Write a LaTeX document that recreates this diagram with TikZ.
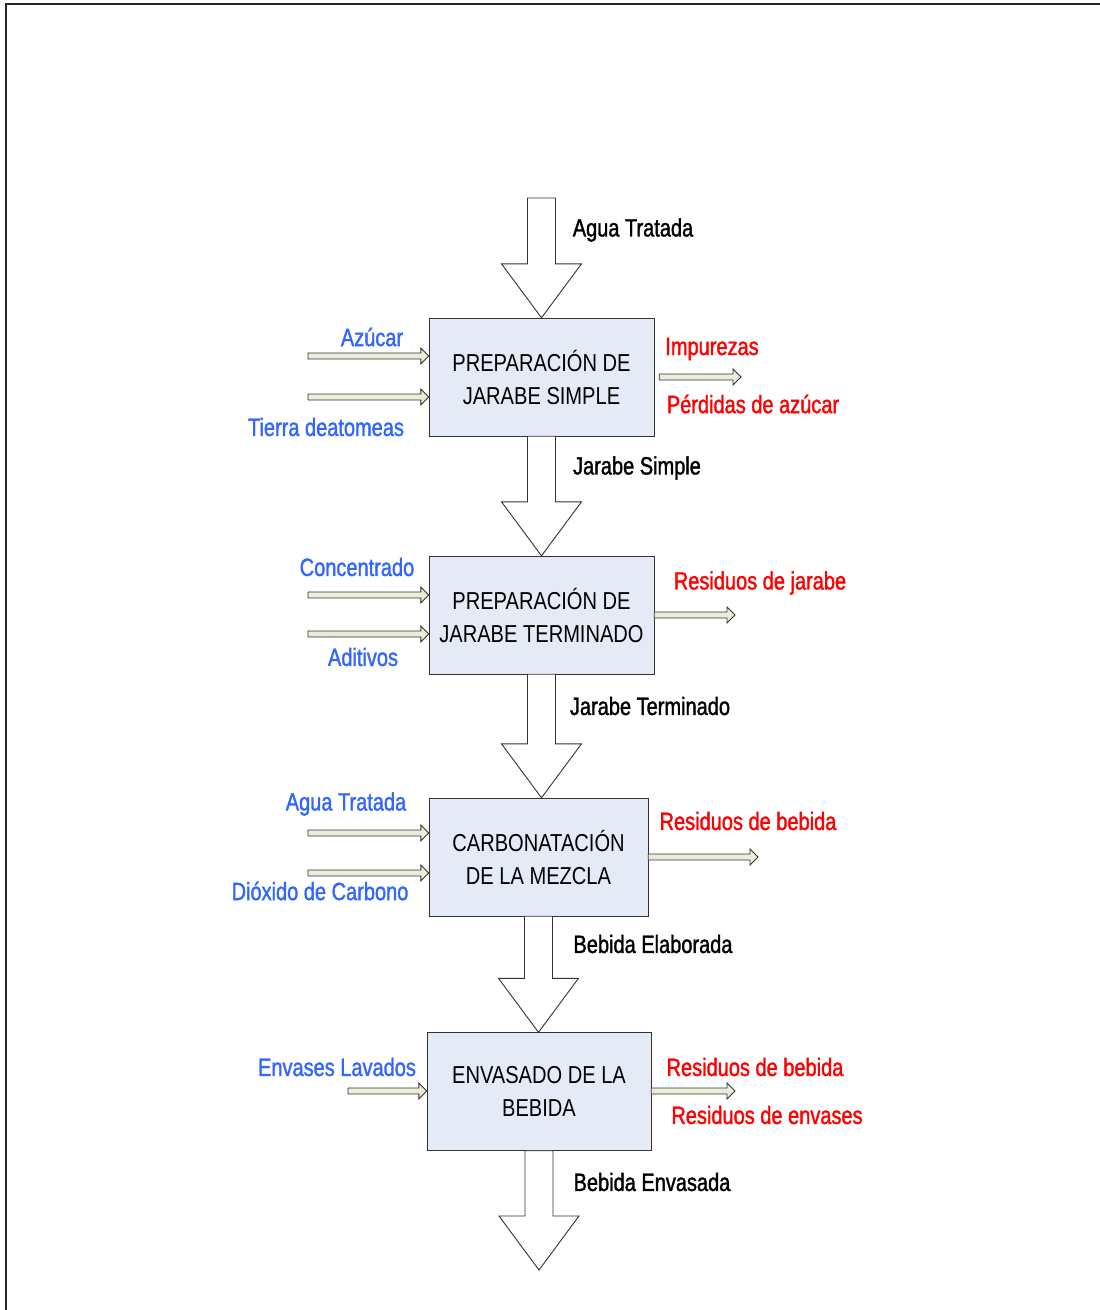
\documentclass[tikz,border=0pt]{standalone}
\usepackage{fontspec}
\setmainfont{Liberation Sans}[FakeStretch=0.82]
\newfontfamily\lblfont{Liberation Sans}[FakeStretch=0.8, FakeBold=1.4]
\usetikzlibrary{calc}

\definecolor{boxfill}{RGB}{229,235,246}
\definecolor{inblue}{RGB}{51,102,255}
\definecolor{pipefill}{RGB}{236,236,218}

% hollow flow arrow between stages
\newcommand{\flowarrow}[2]{%
  \draw[bigarrow] let \p1=(#1), \p2=(#2) in
    (\x1-14pt,\y1) -- (\x1-14pt,\y2+54pt) -- (\x1-40pt,\y2+54pt) -- (\x1,\y2)
    -- (\x1+40pt,\y2+54pt) -- (\x1+14pt,\y2+54pt) -- (\x1+14pt,\y1) -- cycle;}
% small side stream
\newcommand{\sidepipe}[2]{%
  \draw[pipe] let \p1=(#1), \p2=(#2) in
    (\x1,\y1+3pt) -- (\x2-8pt,\y1+3pt) -- (\x2-8pt,\y1+8pt) -- (\x2,\y1)
    -- (\x2-8pt,\y1-8pt) -- (\x2-8pt,\y1-3pt) -- (\x1,\y1-3pt) -- cycle;}

\begin{document}
\begin{tikzpicture}[x=1pt, y=-1pt,
    stage/.style={draw=black!80, fill=boxfill, align=center, inner sep=0pt,
      minimum width=225pt, minimum height=118pt, font=\fontsize{24.5}{33}\selectfont},
    lbl/.style={inner sep=0pt, font=\lblfont\fontsize{25}{28}\selectfont},
    inlbl/.style={lbl, text=inblue},
    outlbl/.style={lbl, text=red},
    bigarrow/.style={draw=black!80, fill=white, line width=0.9pt, line join=miter},
    pipe/.style={draw=black!80, fill=pipefill, line width=0.9pt},
]
\useasboundingbox (0,0) rectangle (1100,1310);

% Frame
\draw[line width=2pt, black!85] (6,1310) -- (6,4) -- (1100,4);

% Stages
\node[stage] (box1) at (541.5,377) {PREPARACIÓN DE\\JARABE SIMPLE};
\node[stage] (box2) at (541.5,615) {PREPARACIÓN DE\\JARABE TERMINADO};
\node[stage, minimum width=219pt] (box3) at (538.5,857) {CARBONATACIÓN\\DE LA MEZCLA};
\node[stage, minimum width=224pt] (box4) at (539,1091.5) {ENVASADO DE LA\\BEBIDA};

% Main flow
\coordinate (feed) at (541.5,198);
\coordinate (product) at (539,1270);
\flowarrow{feed}{box1.north}
\flowarrow{box1.south}{box2.north}
\flowarrow{box2.south}{box3.north}
\flowarrow{box3.south}{box4.north}
\flowarrow{box4.south}{product}

\node[lbl] (fAgua) at (633,230) {Agua Tratada};
\node[lbl] (fJarabe) at (637,468) {Jarabe Simple};
\node[lbl] (fTerminado) at (650,706) {Jarabe Terminado};
\node[lbl] (fElaborada) at (653,944) {Bebida Elaborada};
\node[lbl] (fEnvasada) at (652,1182) {Bebida Envasada};

% Inputs
\coordinate (in1a) at (308,356);
\coordinate (in1b) at (308,397);
\coordinate (in2a) at (308,595);
\coordinate (in2b) at (308,634);
\coordinate (in3a) at (308,833);
\coordinate (in3b) at (308,873);
\coordinate (in4a) at (348,1091);
\sidepipe{in1a}{box1.west |- in1a}
\sidepipe{in1b}{box1.west |- in1b}
\sidepipe{in2a}{box2.west |- in2a}
\sidepipe{in2b}{box2.west |- in2b}
\sidepipe{in3a}{box3.west |- in3a}
\sidepipe{in3b}{box3.west |- in3b}
\sidepipe{in4a}{box4.west |- in4a}

\node[inlbl] (iAzucar) at (372,337) {Azúcar};
\node[inlbl] (iTierra) at (326,427) {Tierra deatomeas};
\node[inlbl] (iConc) at (357,567) {Concentrado};
\node[inlbl] (iAditivos) at (363,657) {Aditivos};
\node[inlbl] (iAgua) at (346,804) {Agua Tratada};
\node[inlbl] (iCO2) at (320,891) {Dióxido de Carbono};
\node[inlbl] (iEnvases) at (337,1067) {Envases Lavados};

% Outputs
\coordinate (out1) at (741,377);
\coordinate (out2) at (735,615);
\coordinate (out3) at (758,857);
\coordinate (out4) at (735,1091);
\sidepipe{$(box1.east)+(5,0)$}{out1}
\sidepipe{box2.east}{out2}
\sidepipe{box3.east}{out3}
\sidepipe{box4.east |- out4}{out4}

\node[outlbl] (oImp) at (712,349) {Impurezas};
\node[outlbl] (oPerd) at (753,404) {Pérdidas de azúcar};
\node[outlbl] (oJarabe) at (760,583) {Residuos de jarabe};
\node[outlbl] (oBebida) at (748,821) {Residuos de bebida};
\node[outlbl] (oBebida2) at (755,1067) {Residuos de bebida};
\node[outlbl] (oEnvases) at (767,1115) {Residuos de envases};

\end{tikzpicture}
\end{document}
